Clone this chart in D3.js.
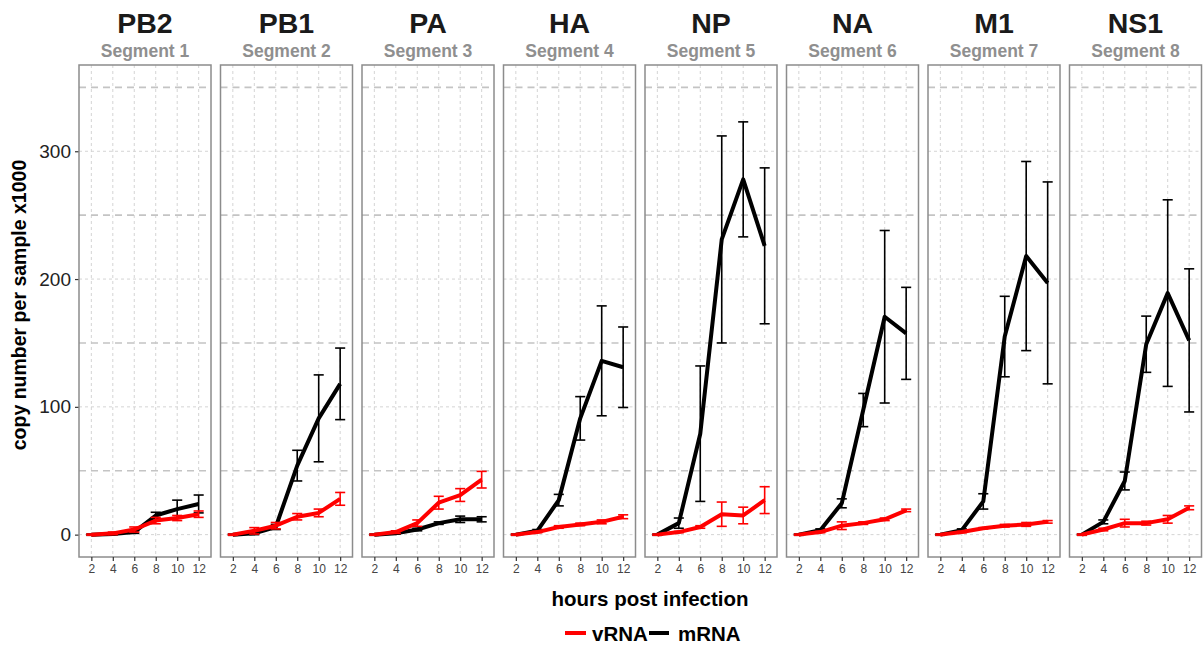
<!DOCTYPE html>
<html>
<head>
<meta charset="utf-8">
<script src="https://cdn.jsdelivr.net/npm/d3@7"></script>
<style>
  html, body { margin: 0; padding: 0; background: #fff; }
  svg { display: block; font-family: "Liberation Sans", Arial, Helvetica, sans-serif; }
</style>
</head>
<body>
<svg id="chart" width="1203" height="646"></svg>
<script>
// ---------------- data ----------------
const hours = [2, 4, 6, 8, 10, 12];
const genes = ["PB2", "PB1", "PA", "HA", "NP", "NA", "M1", "NS1"];
const segmentLabels = ["Segment 1", "Segment 2", "Segment 3", "Segment 4", "Segment 5", "Segment 6", "Segment 7", "Segment 8"];
const seriesNames = ["vRNA", "mRNA"];
const yTicks = [0, 100, 200, 300];
const yMidLines = [50, 150, 250, 350];
const xTicks = [2, 4, 6, 8, 10, 12];

// mRNA mean per gene (copy number per sample x1000)
const mrnaMean = [
  [0, 0.5, 2, 15, 20, 24],
  [0, 1, 6, 54, 91, 118],
  [0, 1, 4, 9, 12, 12],
  [0, 3, 27, 91, 136, 131],
  [0, 9, 79, 231, 278, 226],
  [0, 3.5, 24.5, 97.5, 170.5, 157.5],
  [0, 3.5, 26, 155, 218, 197],
  [0, 10, 42, 149, 189, 152]
];
const mrnaErr = [
  [0.5, 0.5, 1, 2.5, 7, 7],
  [0.5, 1, 2, 12, 34, 28],
  [0.5, 0.5, 1, 1, 2.5, 2],
  [0.5, 1, 4.5, 17, 43, 31.5],
  [0.5, 4, 53, 81, 45, 61],
  [0.5, 1, 3.5, 13, 67.5, 36],
  [0.5, 1, 6, 31.5, 74, 79],
  [0.5, 1.5, 7, 22, 73, 56]
];
// vRNA mean per gene
const vrnaMean = [
  [0, 1, 4, 11, 13, 16],
  [0, 3, 7, 14, 17, 28],
  [0, 2, 9, 25, 31, 43],
  [0, 2, 6, 8, 10, 14],
  [0, 2, 6, 16, 15, 27],
  [0, 2, 7, 9, 12, 19],
  [0, 2, 5, 7, 8, 10],
  [0, 4, 9, 9, 12, 21]
];
const vrnaErr = [
  [0.5, 1, 2, 2.5, 2, 2.5],
  [0.5, 2.5, 2.5, 2.5, 3, 5],
  [0.5, 1, 2.5, 5, 5, 6.5],
  [0.5, 0.5, 1, 1, 1.5, 1.5],
  [0.5, 0.5, 1, 9.5, 6.5, 10.5],
  [0.5, 0.5, 3, 1, 1, 1],
  [0.5, 0.5, 0.5, 1, 1.5, 1],
  [0.5, 1, 3, 1.5, 3, 1.5]
];

// ---------------- layout ----------------
const svg = d3.select("#chart");
const panelTop = 65, panelBottom = 557;
const firstLeft = 79, panelStep = 141.5, panelW = 132;
const colors = { vRNA: "#ff0000", mRNA: "#000000" };

const y = d3.scaleLinear().domain([-17.5, 367.5]).range([panelBottom, panelTop]);

// y axis (left of first panel)
const yAxis = svg.append("g")
  .attr("transform", `translate(${firstLeft},0)`)
  .call(d3.axisLeft(y).tickValues(yTicks).tickSize(4).tickPadding(4));
yAxis.select(".domain").remove();
yAxis.selectAll(".tick line").attr("stroke", "#333").attr("stroke-width", 1.2);
yAxis.selectAll(".tick text").attr("font-size", 19).attr("fill", "#222")
  .attr("font-family", "Liberation Sans, Arial, sans-serif");

svg.append("text")
  .attr("transform", `translate(26,${(panelTop + panelBottom) / 2 - 6}) rotate(-90)`)
  .attr("text-anchor", "middle")
  .attr("font-size", 19.5).attr("font-weight", "bold").attr("fill", "#000")
  .text("copy number per sample x1000");

genes.forEach((gene, i) => {
  const left = firstLeft + i * panelStep;
  const x = d3.scaleLinear().domain([0.85, 13.15]).range([left, left + panelW]);
  const g = svg.append("g");

  // strip labels
  g.append("text").attr("x", left + panelW / 2).attr("y", 33)
    .attr("text-anchor", "middle").attr("font-size", 28.5).attr("font-weight", "bold")
    .attr("fill", "#1a1a1a").text(gene);
  g.append("text").attr("x", left + panelW / 2).attr("y", 57)
    .attr("text-anchor", "middle").attr("font-size", 17.5).attr("font-weight", "bold")
    .attr("fill", "#8f8f8f").text(segmentLabels[i]);

  // grid
  g.selectAll(".vgrid").data(xTicks).join("line")
    .attr("x1", d => x(d)).attr("x2", d => x(d))
    .attr("y1", panelTop).attr("y2", panelBottom)
    .attr("stroke", "#d4d4d4").attr("stroke-width", 1).attr("stroke-dasharray", "3,3");
  g.selectAll(".hgrid").data(yTicks).join("line")
    .attr("x1", left).attr("x2", left + panelW)
    .attr("y1", d => y(d)).attr("y2", d => y(d))
    .attr("stroke", "#d4d4d4").attr("stroke-width", 1).attr("stroke-dasharray", "3,3");
  g.selectAll(".hmid").data(yMidLines).join("line")
    .attr("x1", left).attr("x2", left + panelW)
    .attr("y1", d => y(d)).attr("y2", d => y(d))
    .attr("stroke", "#c4c4c4").attr("stroke-width", 1.6).attr("stroke-dasharray", "7,5");

  const series = [
    { name: "mRNA", mean: mrnaMean[i], err: mrnaErr[i] },
    { name: "vRNA", mean: vrnaMean[i], err: vrnaErr[i] }
  ];
  const line = d3.line().x(d => x(d.h)).y(d => y(d.v));
  series.forEach(s => {
    const pts = hours.map((h, k) => ({ h, v: s.mean[k], e: s.err[k] }));
    const c = colors[s.name];
    g.append("path").datum(pts).attr("d", line)
      .attr("fill", "none").attr("stroke", c).attr("stroke-width", 4)
      .attr("stroke-linejoin", "round");
    const eb = g.append("g");
    eb.selectAll(".ebv").data(pts).join("line")
      .attr("x1", d => x(d.h)).attr("x2", d => x(d.h))
      .attr("y1", d => y(d.v - d.e)).attr("y2", d => y(d.v + d.e))
      .attr("stroke", c).attr("stroke-width", 1.6);
    ["lo", "hi"].forEach(end => {
      eb.selectAll(".cap" + end).data(pts).join("line")
        .attr("x1", d => x(d.h - 0.47)).attr("x2", d => x(d.h + 0.47))
        .attr("y1", d => y(end === "lo" ? d.v - d.e : d.v + d.e))
        .attr("y2", d => y(end === "lo" ? d.v - d.e : d.v + d.e))
        .attr("stroke", c).attr("stroke-width", 1.6);
    });
  });

  // panel border
  g.append("rect").attr("x", left).attr("y", panelTop)
    .attr("width", panelW).attr("height", panelBottom - panelTop)
    .attr("fill", "none").attr("stroke", "#8c8c8c").attr("stroke-width", 1.5);

  // x axis
  const xa = svg.append("g").attr("transform", `translate(0,${panelBottom})`)
    .call(d3.axisBottom(x).tickValues(xTicks).tickSize(4).tickPadding(3));
  xa.select(".domain").remove();
  xa.selectAll(".tick line").attr("stroke", "#333").attr("stroke-width", 1.2);
  xa.selectAll(".tick text").attr("font-size", 12).attr("fill", "#444")
    .attr("font-family", "Liberation Sans, Arial, sans-serif");
});

// x title
svg.append("text").attr("x", 650).attr("y", 606).attr("text-anchor", "middle")
  .attr("font-size", 20.5).attr("font-weight", "bold").attr("fill", "#000")
  .text("hours post infection");

// legend
const legendItems = [
  { name: "vRNA", x0: 565, x1: 586, tx: 592 },
  { name: "mRNA", x0: 649, x1: 669, tx: 678 }
];
const lg = svg.append("g");
seriesNames.forEach((name, k) => {
  const it = legendItems[k];
  lg.append("line").attr("x1", it.x0).attr("x2", it.x1).attr("y1", 633).attr("y2", 633)
    .attr("stroke", colors[name]).attr("stroke-width", 4);
  lg.append("text").attr("x", it.tx).attr("y", 641)
    .attr("font-size", 20.5).attr("font-weight", "bold").attr("fill", "#000").text(name);
});
</script>
</body>
</html>
